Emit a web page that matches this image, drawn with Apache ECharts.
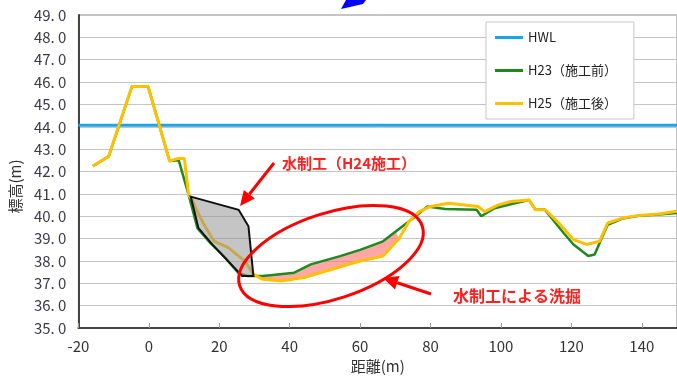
<!DOCTYPE html>
<html><head><meta charset="utf-8">
<script src="https://cdn.jsdelivr.net/npm/echarts@6/dist/echarts.min.js"></script>
<style>html,body{margin:0;padding:0;background:#fff;overflow:hidden}#c{width:677px;height:379px}</style>
</head><body><div id="c"></div>
<script>
const seriesNames = ['HWL', 'H23（施工前）', 'H25（施工後）'];
const hwlX = [-20, 150];
const hwlY = [44.07, 44.07];
const h23X = [-15.9, -11.4, -4.8, -4.4, -0.2, 5.9, 8.5, 11.4, 13.8, 17.5, 21.3, 25.5, 28.0, 32.4, 41.3, 46.0, 54.3, 60.0, 66.5, 70.2, 75.8, 79.1, 84.2, 93.1, 94.4, 98.2, 103.0, 108.0, 109.8, 112.4, 117.8, 120.6, 124.8, 126.6, 130.3, 134.5, 139.2, 144.8, 150.0];
const h23Y = [42.24, 42.68, 45.8, 45.86, 45.8, 42.47, 42.5, 40.9, 39.47, 38.8, 38.22, 37.45, 37.33, 37.33, 37.48, 37.85, 38.22, 38.5, 38.88, 39.33, 40.0, 40.44, 40.33, 40.29, 40.0, 40.36, 40.55, 40.73, 40.29, 40.3, 39.25, 38.74, 38.22, 38.29, 39.62, 39.9, 40.02, 40.08, 40.15];
const h25X = [-15.9, -11.4, -4.8, -4.4, -0.2, 5.9, 8.2, 10.1, 11.3, 12.4, 13.3, 15.7, 18.5, 22.7, 25.5, 27.3, 29.7, 32.4, 37.6, 44.1, 53.4, 60.0, 66.5, 71.0, 73.9, 76.7, 80.0, 85.1, 93.5, 95.4, 99.1, 102.8, 108.0, 109.8, 112.6, 116.4, 120.6, 124.3, 128.0, 130.3, 134.5, 139.2, 144.8, 150.0];
const h25Y = [42.24, 42.68, 45.8, 45.86, 45.8, 42.47, 42.58, 42.58, 40.95, 40.73, 40.36, 39.62, 38.89, 38.59, 38.22, 38.0, 37.4, 37.18, 37.11, 37.26, 37.7, 38.0, 38.22, 39.0, 39.77, 40.2, 40.44, 40.58, 40.44, 40.21, 40.5, 40.66, 40.73, 40.29, 40.29, 39.7, 38.96, 38.74, 38.88, 39.7, 39.92, 40.04, 40.1, 40.22];
const weirX = [11.9, 25.5, 28.3, 29.7, 26.5, 18.0, 14.1];
const weirY = [40.88, 40.29, 39.55, 37.33, 37.33, 38.74, 39.47];
const scourRange = [32, 71.5];

const pairs = (xs, ys) => xs.map((x, i) => [x, ys[i]]);
const h23 = pairs(h23X, h23Y), h25 = pairs(h25X, h25Y);
const inR = p => p[0] >= scourRange[0] && p[0] <= scourRange[1];
const scourPoly = h23.filter(inR).concat(h25.filter(inR).reverse());

function polySeries(name, pts, fill, stroke, lw, z) {
  return {
    type: 'custom', name: name, z: z, silent: true, clip: true,
    data: pts,
    renderItem: function (params, api) {
      if (params.dataIndex !== 0) return null;
      const P = pts.map(p => api.coord(p));
      return { type: 'polygon', shape: { points: P },
        style: { fill: fill, stroke: stroke, lineWidth: lw, lineJoin: 'miter' } };
    }
  };
}

function arrow(x1, y1, x2, y2, color) {
  const ang = Math.atan2(y2 - y1, x2 - x1);
  const L = 15, W = 7;
  const bx = x2 - L * Math.cos(ang), by = y2 - L * Math.sin(ang);
  const nx = -Math.sin(ang), ny = Math.cos(ang);
  return [
    { type: 'line', shape: { x1: x1, y1: y1, x2: bx, y2: by }, style: { stroke: color, lineWidth: 3 }, z: 100 },
    { type: 'polygon', shape: { points: [[x2, y2], [bx + nx * W, by + ny * W], [bx - nx * W, by - ny * W]] }, style: { fill: color }, z: 100 }
  ];
}

const chart = echarts.init(document.getElementById('c'), null, { renderer: 'canvas' });
const font = '"Noto Sans CJK JP", "Noto Sans", sans-serif';
chart.setOption({
  animation: false,
  backgroundColor: '#fff',
  textStyle: { fontFamily: font },
  grid: { left: 78, top: 15, bottom: 48, right: -8, show: true, borderColor: '#888', borderWidth: 1 },
  legend: {
    data: seriesNames, orient: 'vertical', left: 486, top: 22,
    backgroundColor: '#fff', borderColor: '#c8c8c8', borderWidth: 1,
    padding: [9, 17, 9, 9], itemGap: 20, itemWidth: 28, itemHeight: 3, icon: 'rect',
    textStyle: { fontSize: 13, color: '#222', fontFamily: font }
  },
  xAxis: {
    type: 'value', min: -20, max: 150, interval: 20,
    name: '距離(m)', nameLocation: 'middle', nameGap: 28,
    nameTextStyle: { fontSize: 15, color: '#333', fontFamily: font },
    axisLine: { show: true, onZero: false, lineStyle: { color: '#444', width: 2 } },
    axisTick: { show: true, inside: true, length: 5, lineStyle: { color: '#999' } },
    axisLabel: { fontSize: 15, color: '#333', margin: 11, showMaxLabel: false, fontFamily: font },
    splitLine: { show: false }
  },
  yAxis: {
    type: 'value', min: 35, max: 49, interval: 1,
    name: '標高(m)', nameLocation: 'middle', nameGap: 55, nameRotate: 90,
    nameTextStyle: { fontSize: 15, color: '#333', fontFamily: font, padding: [0, 30, 0, 0] },
    axisLine: { show: true, onZero: false, lineStyle: { color: '#444', width: 2 } },
    axisTick: { show: false },
    axisLabel: { fontSize: 15, color: '#3a3a48', margin: 12, fontFamily: font,
      formatter: v => v.toFixed(1).replace('.', '. ') },
    splitLine: { show: true, lineStyle: { color: '#c4c4c4', width: 1 } }
  },
  series: [
    polySeries('scour', scourPoly, 'rgba(255,120,120,0.65)', null, 0, 1),
    { name: seriesNames[0], type: 'line', data: pairs(hwlX, hwlY), showSymbol: false, z: 2,
      lineStyle: { color: '#18A6E6', width: 3 }, itemStyle: { color: '#18A6E6' } },
    { name: seriesNames[1], type: 'line', data: h23, showSymbol: false, z: 3,
      lineStyle: { color: '#1E8A1E', width: 2.5 }, itemStyle: { color: '#1E8A1E' } },
    { name: seriesNames[2], type: 'line', data: h25, showSymbol: false, z: 4,
      lineStyle: { color: '#FFC000', width: 3 }, itemStyle: { color: '#FFC000' } },
    polySeries('weir', pairs(weirX, weirY), 'rgba(150,150,150,0.55)', '#111', 2, 5)
  ],
  graphic: [
    { type: 'polygon', shape: { points: [[346, 0], [366, 0], [363, 4], [341, 9]] }, style: { fill: '#0000FF' }, z: 100 },
    { type: 'ellipse', x: 331, y: 256, rotation: 18 * Math.PI / 180, shape: { cx: 0, cy: 0, rx: 96, ry: 43 },
      style: { fill: null, stroke: '#FF0000', lineWidth: 3 }, z: 100 },
    ...arrow(274, 163, 240, 206, '#FF0000'),
    ...arrow(431, 294, 383, 278, '#FF0000'),
    { type: 'text', x: 282, y: 163, z: 100,
      style: { text: '水制工（H24施工）', fill: '#FF2020', font: 'bold 15px ' + font, verticalAlign: 'middle' } },
    { type: 'text', x: 453, y: 296, z: 100,
      style: { text: '水制工による洗掘', fill: '#FF2020', font: 'bold 16px ' + font, verticalAlign: 'middle' } }
  ]
});
</script></body></html>
